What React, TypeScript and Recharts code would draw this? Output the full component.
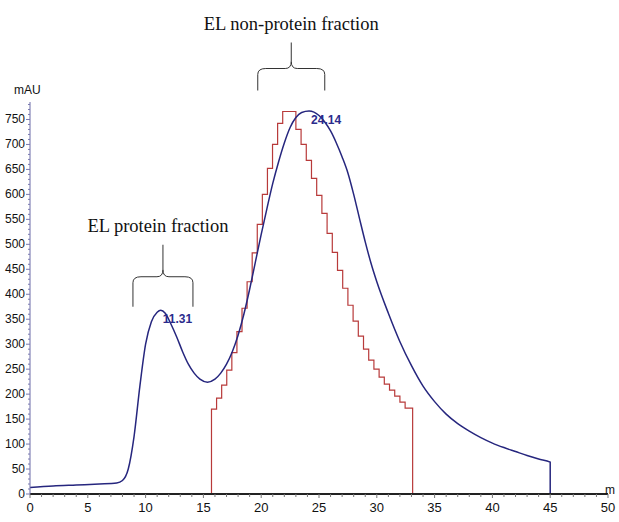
import { LineChart, Line, XAxis, YAxis, ReferenceDot } from 'recharts';

// UV trace (blue), retention time in min / absorbance in mAU
const uvTimes = [
  0, 2, 4, 6, 7.5, 8, 8.5, 9, 9.5, 10, 10.5, 11, 11.31, 11.7, 12.2, 12.7, 13.2, 13.7, 14.2, 14.7, 15.35,
  16, 16.5, 17, 17.5, 18, 18.5, 19, 19.5, 20, 20.5, 21, 21.5, 22, 22.5, 23, 23.5, 24.14, 25, 25.5, 26,
  26.5, 27, 27.5, 28, 28.5, 29, 29.5, 30, 31, 32, 33, 34, 35, 36, 37, 38, 39, 40,
  41, 42, 43, 44, 45, 45, 50,
];
const uvValues = [
  13, 16, 18, 20, 22, 27, 50, 115, 215, 300, 345, 364, 368, 362, 340, 314, 285, 260, 242, 230, 224,
  230, 242, 260, 285, 318, 360, 410, 465, 520, 572, 622, 665, 703, 734, 754, 764, 767, 758, 745, 727,
  703, 675, 643, 600, 552, 505, 462, 425, 362, 305, 257, 216, 185, 160, 141, 126, 113, 102,
  93, 85, 77, 70, 64, 0, 0,
];

// collected fractions (red step trace)
const fractionTimes = [
  0, 15.7, 16.14, 16.58, 17.02, 17.46, 17.9, 18.34, 18.78, 19.22, 19.66, 20.1, 20.54, 20.98, 21.42, 21.86,
  23.0, 23.45, 23.9, 24.35, 24.8, 25.25, 25.7, 26.15, 26.6, 27.05, 27.5, 27.95, 28.4, 28.85, 29.3, 29.75,
  30.2, 30.65, 31.1, 31.55, 32.0, 32.45, 33.1, 50,
];
const fractionValues = [
  0, 170, 192, 218, 248, 283, 325, 372, 425, 483, 540, 600, 652, 700, 742, 766,
  730, 700, 668, 632, 598, 562, 522, 484, 448, 412, 378, 346, 316, 290, 268, 250,
  234, 220, 208, 196, 184, 172, 0, 0,
];

const xTickLabels = [0, 5, 10, 15, 20, 25, 30, 35, 40, 45, 50];
const yTickLabels = [0, 50, 100, 150, 200, 250, 300, 350, 400, 450, 500, 550, 600, 650, 700, 750];

const peaks = [
  { t: 11.31, v: 368, label: '11.31' },
  { t: 24.14, v: 767, label: '24.14' },
];

const uvData = uvTimes.map((t, i) => ({ t, mAU: uvValues[i] }));
const fractionData = fractionTimes.map((t, i) => ({ t, mAU: fractionValues[i] }));

const xTicks = Array.from({ length: 51 }, (_, i) => i);
const yTicks = Array.from({ length: 79 }, (_, i) => i * 10);

const tickFont = '"Liberation Sans Narrow", "Arial Narrow", "Liberation Sans", sans-serif';
const serif = '"Liberation Serif", "Times New Roman", serif';

const XTick = ({ x, y, payload }: any) => {
  const major = xTickLabels.includes(payload.value);
  return (
    <g>
      <line x1={x} x2={x} y1={y} y2={y + (major ? 4 : 3)} stroke="#777" />
      {major && (
        <text x={x} y={y + 18} textAnchor="middle" fontSize={13} fontFamily={tickFont} fill="#111">
          {payload.value}
        </text>
      )}
    </g>
  );
};

const YTick = ({ x, y, payload }: any) => {
  const major = yTickLabels.includes(payload.value);
  return (
    <g>
      <line x1={x - (major ? 4 : 2)} x2={x} y1={y} y2={y} stroke="#7a7ab0" />
      {major && (
        <text x={x - 5} y={y + 4} textAnchor="end" fontSize={12} fontFamily={tickFont} fill="#111">
          {payload.value}
        </text>
      )}
    </g>
  );
};

// curly brace drawn around the anchor point (bottom centre), with a caption above it
const braceShape = (w: number, h: number, H: number, caption: string, dx: number) => (props: any) => {
  const { cx, cy } = props;
  const l = cx - w / 2;
  const r = cx + w / 2;
  const top = cy - h;
  const d = [
    `M ${l} ${cy} L ${l} ${top + 6} Q ${l} ${top} ${l + 8} ${top} L ${cx - 6} ${top} Q ${cx} ${top} ${cx} ${top - 7} L ${cx} ${cy - H}`,
    `M ${cx} ${top - 7} Q ${cx} ${top} ${cx + 6} ${top} L ${r - 8} ${top} Q ${r} ${top} ${r} ${top + 6} L ${r} ${cy}`,
  ].join(' ');
  return (
    <g>
      <path d={d} fill="none" stroke="#333" strokeWidth={1} />
      <text x={cx + dx} y={cy - H - 13} textAnchor="middle" fontSize={18.5} fontFamily={serif} fill="#111">
        {caption}
      </text>
    </g>
  );
};

const peakShape = (label: string) => (props: any) => (
  <text x={props.cx + 2} y={props.cy + 13} fontSize={12} fontWeight="bold" fontFamily={tickFont} fill="#2b2b8c">
    {label}
  </text>
);

export default function App() {
  return (
    <div style={{ position: 'absolute', left: 0, top: 0, width: 619, height: 522, background: '#fff' }}>
      <LineChart width={619} height={522} margin={{ top: 102, right: 11, left: 0, bottom: 0 }}>
        <XAxis
          dataKey="t"
          type="number"
          domain={[0, 50]}
          ticks={xTicks}
          interval={0}
          height={28}
          tickSize={0}
          tickMargin={0}
          tick={<XTick />}
          stroke="#222"
          strokeWidth={2}
          allowDuplicatedCategory={false}
        />
        <YAxis
          type="number"
          domain={[0, 785]}
          ticks={yTicks}
          interval={0}
          width={30}
          tickSize={0}
          tickMargin={0}
          tick={<YTick />}
          stroke="#6a6aa8"
        />
        <Line
          data={fractionData}
          dataKey="mAU"
          type="stepAfter"
          stroke="#b83a3a"
          strokeWidth={1.2}
          dot={false}
          isAnimationActive={false}
        />
        <Line
          data={uvData}
          dataKey="mAU"
          type="monotone"
          stroke="#26267e"
          strokeWidth={1.5}
          dot={false}
          isAnimationActive={false}
        />
        {peaks.map((p) => (
          <ReferenceDot key={p.label} x={p.t} y={p.v} r={0} ifOverflow="visible" shape={peakShape(p.label)} />
        ))}
        <ReferenceDot x={11.5} y={375} r={0} ifOverflow="visible" shape={braceShape(60, 30, 62, 'EL protein fraction', -5)} />
        <ReferenceDot x={22.6} y={808} r={0} ifOverflow="visible" shape={braceShape(67, 22, 48, 'EL non-protein fraction', 0)} />
      </LineChart>
      <div style={{ position: 'absolute', left: 14, top: 83, fontSize: 12, fontFamily: tickFont, color: '#111' }}>mAU</div>
      <div style={{ position: 'absolute', left: 605, top: 483, fontSize: 12, fontFamily: tickFont, color: '#111' }}>m</div>
    </div>
  );
}
